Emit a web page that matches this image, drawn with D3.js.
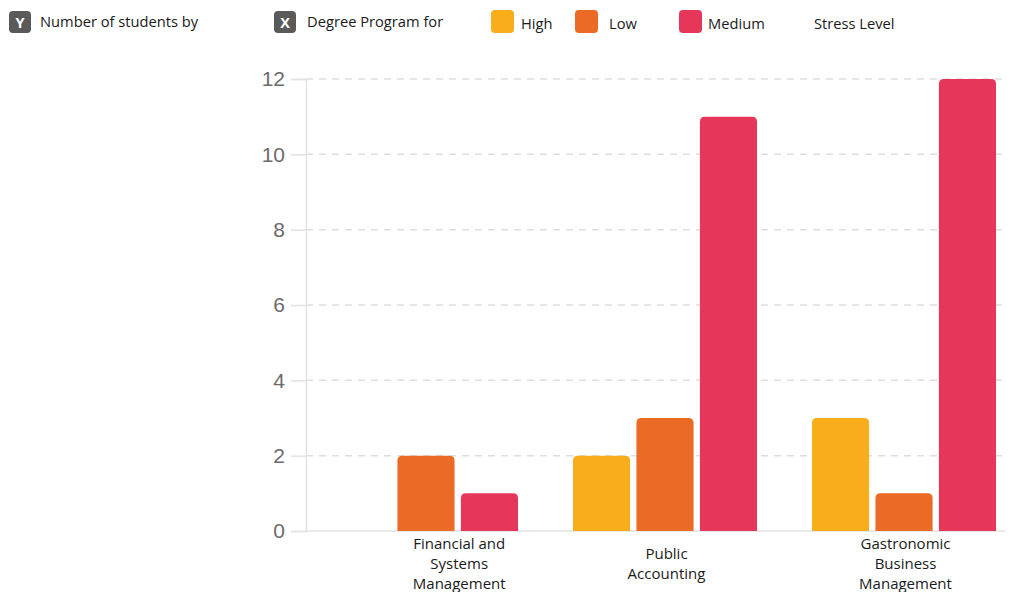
<!DOCTYPE html>
<html>
<head>
<meta charset="utf-8">
<script src="https://cdn.jsdelivr.net/npm/d3@7"></script>
<style>
  html, body { margin: 0; padding: 0; background: #fff; }
  svg { display: block; }
</style>
</head>
<body>
<svg id="chart" width="1019" height="592"></svg>
<script>
// Degree programmes shown on the x axis (each label split into lines)
const programs = ["Financial and Systems Management", "Public Accounting", "Gastronomic Business Management"];
const programLines = [["Financial and", "Systems", "Management"], ["Public", "Accounting"], ["Gastronomic", "Business", "Management"]];
// Stress levels (series)
const levels = ["High", "Low", "Medium"];
const levelColors = ["#F7AE1A", "#EA6A26", "#E6375B"];
// Number of students per programme, one array per stress level
const highValues = [0, 2, 3];
const lowValues = [2, 3, 1];
const mediumValues = [1, 11, 12];
const yTicks = [0, 2, 4, 6, 8, 10, 12];

const series = [highValues, lowValues, mediumValues];
const svg = d3.select("#chart");

const plot = { left: 306, right: 1024, top: 79, bottom: 531 };

const x0 = d3.scaleBand().domain(programs).range([plot.left, plot.right])
  .paddingInner(0.23).paddingOuter(0.117);
const x1 = d3.scaleBand().domain(levels).range([0, x0.bandwidth()]).paddingInner(0.1);
const y = d3.scaleLinear().domain([0, 12]).range([plot.bottom, plot.top]);
const color = d3.scaleOrdinal().domain(levels).range(levelColors);

// gridlines
svg.append("g").selectAll("line").data(yTicks.filter(t => t > 0)).join("line")
  .attr("x1", plot.left).attr("x2", 1005)
  .attr("y1", d => y(d)).attr("y2", d => y(d))
  .attr("stroke", "#dedede").attr("stroke-width", 1.5).attr("stroke-dasharray", "7,6");

// y axis
const yAxis = svg.append("g").attr("transform", `translate(${plot.left},0)`)
  .call(d3.axisLeft(y).tickValues(yTicks).tickSize(15).tickPadding(6).tickFormat(d3.format("d")));
yAxis.select(".domain").attr("stroke", "#e2e2e2").attr("stroke-width", 1.5);
yAxis.selectAll(".tick line").attr("stroke", "#e2e2e2").attr("stroke-width", 1.5);
yAxis.selectAll(".tick text").attr("fill", "#6b6b6b")
  .style("font-family", "'Liberation Sans', Arial, sans-serif").style("font-size", "21px");

// x baseline
svg.append("line").attr("x1", plot.left).attr("x2", 1005)
  .attr("y1", plot.bottom).attr("y2", plot.bottom)
  .attr("stroke", "#e2e2e2").attr("stroke-width", 1.5);

// bars with rounded top corners
function barPath(x, yTop, w, h, r) {
  if (h <= 0) return "";
  r = Math.min(r, h, w / 2);
  return `M${x},${yTop + h}V${yTop + r}Q${x},${yTop} ${x + r},${yTop}H${x + w - r}Q${x + w},${yTop} ${x + w},${yTop + r}V${yTop + h}Z`;
}

const barData = [];
programs.forEach((p, i) => {
  levels.forEach((l, j) => barData.push({ program: p, level: l, value: series[j][i] }));
});

svg.append("g").selectAll("path").data(barData.filter(d => d.value > 0)).join("path")
  .attr("d", d => {
    const bx = x0(d.program) + x1(d.level);
    return barPath(bx, y(d.value), x1.bandwidth(), y(0) - y(d.value), 5);
  })
  .attr("fill", d => color(d.level));

// x labels centred under the drawn bars of each group
const labelG = svg.append("g")
  .style("font-family", "'Open Sans', 'Noto Sans', sans-serif").style("font-size", "15px").attr("fill", "#1a1a1a");
programs.forEach((p, i) => {
  const drawn = levels.filter((l, j) => series[j][i] > 0);
  const cx = (x0(p) + x1(drawn[0]) + x0(p) + x1(drawn[drawn.length - 1]) + x1.bandwidth()) / 2 + 1.5;
  const lines = programLines[i];
  const lh = 20;
  const startY = 563 - (lines.length - 1) * lh / 2;
  lines.forEach((t, k) => {
    labelG.append("text").attr("x", cx).attr("y", startY + k * lh)
      .attr("text-anchor", "middle").attr("dominant-baseline", "central").text(t);
  });
});

// header legend
const legend = svg.append("g").style("font-family", "'Open Sans', 'Noto Sans', sans-serif").style("font-size", "14.7px");
function badge(xPos, letter) {
  legend.append("rect").attr("x", xPos).attr("y", 11).attr("width", 22).attr("height", 22)
    .attr("rx", 4).attr("fill", "#5a5a5a");
  legend.append("text").attr("x", xPos + 11).attr("y", 22).attr("text-anchor", "middle")
    .attr("dominant-baseline", "central").attr("fill", "#fff").style("font-weight", "700")
    .style("font-size", "14.5px").text(letter);
}
badge(9, "Y");
legend.append("text").attr("x", 40).attr("y", 21).attr("dominant-baseline", "central").attr("fill", "#1a1a1a").text("Number of students by");
badge(274, "X");
legend.append("text").attr("x", 307).attr("y", 21).attr("dominant-baseline", "central").attr("fill", "#1a1a1a").text("Degree Program for");

const swatchX = [491, 575, 679];
const textX = [521, 609, 708];
levels.forEach((l, j) => {
  legend.append("rect").attr("x", swatchX[j]).attr("y", 10).attr("width", 23).attr("height", 23)
    .attr("rx", 4).attr("fill", color(l));
  legend.append("text").attr("x", textX[j]).attr("y", 23).attr("dominant-baseline", "central")
    .attr("fill", "#1a1a1a").text(l);
});
legend.append("text").attr("x", 814).attr("y", 23).attr("dominant-baseline", "central").attr("fill", "#1a1a1a").text("Stress Level");
</script>
</body>
</html>
